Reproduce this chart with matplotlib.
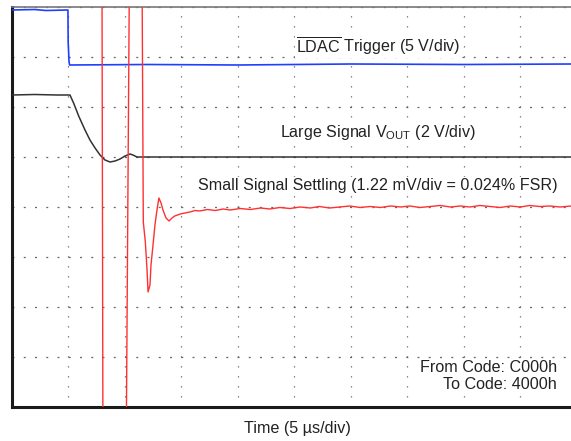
import numpy as np
import matplotlib
matplotlib.use('Agg')
import matplotlib.pyplot as plt

plt.rcParams['font.family'] = ['Liberation Sans', 'DejaVu Sans']
plt.rcParams['mathtext.fontset'] = 'custom'
plt.rcParams['mathtext.rm'] = 'Liberation Sans'
plt.rcParams['mathtext.it'] = 'Liberation Sans:italic'
plt.rcParams['mathtext.bf'] = 'Liberation Sans:bold'

# time in us (5 us/div), amplitude in screen divisions (0..8)
blue_t = [0.0, 2.0, 3.0, 4.95, 4.97, 5.05, 5.1, 12.0, 20.0, 30.0, 40.0, 49.5]
blue_y = [7.94, 7.95, 7.93, 7.94, 7.3, 6.9, 6.84, 6.85, 6.84, 6.86, 6.85, 6.86]

black_t = [0.0, 2.0, 4.0, 5.13, 5.45, 5.9, 6.46, 6.9, 7.35, 7.79, 8.23, 8.67,
           9.12, 9.56, 10.0, 10.44, 10.7, 11.06, 20.0, 35.0, 49.5]
black_y = [6.24, 6.25, 6.24, 6.24, 6.08, 5.82, 5.54, 5.34, 5.18, 5.04, 4.94, 4.9,
           4.92, 4.96, 5.02, 5.06, 5.04, 5.0, 5.0, 5.0, 5.0]

red_t = [0.0, 7.96, 8.05, 10.1, 10.4, 11.5, 11.62, 11.8, 11.95, 12.04, 12.21, 12.3,
         12.48, 12.65, 12.83, 13.0, 13.19, 13.36, 13.63, 13.9, 14.16, 14.4, 14.9,
         15.3, 15.75, 16.2, 16.6, 17.3, 18.0, 18.7, 19.3, 20.2, 21.1, 22.0, 22.8,
         23.7, 24.6, 25.5, 26.4, 27.2, 28.1, 29.0, 29.9, 30.8, 31.7, 32.6, 33.5,
         34.4, 35.2, 36.1, 37.0, 37.9, 38.8, 39.7, 40.5, 41.4, 42.3, 43.2, 44.1,
         45.0, 45.8, 46.7, 47.6, 48.5, 49.5]
red_y = [9.0, 9.0, -1.0, -1.0, 9.0, 9.0, 3.7, 3.3, 2.74, 2.3, 2.44, 2.84,
         3.24, 3.64, 3.94, 4.18, 4.08, 3.94, 3.78, 3.72, 3.78, 3.82, 3.86,
         3.88, 3.9, 3.93, 3.92, 3.95, 3.93, 3.96, 3.94, 3.97, 3.95, 3.98, 3.96,
         3.99, 3.97, 4.0, 3.98, 4.01, 3.98, 4.0, 4.02, 3.99, 4.01, 3.99, 4.02,
         4.0, 4.02, 3.99, 4.01, 4.03, 4.0, 4.02, 4.0, 4.03, 4.01, 3.99, 4.02,
         4.0, 4.03, 4.01, 4.02, 4.0, 4.02]

W, H = 571, 441
fig = plt.figure(figsize=(W / 100, H / 100), dpi=100)
ax = fig.add_axes([12 / W, 34 / H, (W - 12) / W, 400 / H])
ax.set_xlim(0, (W - 12) / 56.5 * 5)
ax.set_ylim(0, 8)

# graticule: dotted lines with a dot per subdivision
ax.set_xticks(np.arange(0, 50, 5))
ax.set_yticks(np.arange(0, 9, 1))
ax.tick_params(length=0, labelbottom=False, labelleft=False)
ax.xaxis.grid(True, color='#666666', lw=0.9, linestyle=(0, (1.0, 7.0)))
ax.yaxis.grid(True, color='#666666', lw=0.9, linestyle=(0, (1.6, 7.4)))
ax.set_axisbelow(True)

ax.spines['left'].set_linewidth(2.2)
ax.spines['bottom'].set_linewidth(2.2)
ax.spines['left'].set_color('#1a1a1a')
ax.spines['bottom'].set_color('#1a1a1a')
ax.spines['top'].set_color('#777777')
ax.spines['top'].set_linewidth(1.2)
ax.spines['right'].set_visible(False)

ax.plot(black_t, black_y, color='#333333', lw=1.1, zorder=3)
ax.plot(blue_t, blue_y, color='#1f3fff', lw=1.2, zorder=3)
ax.plot(red_t, red_y, color='#ff3030', lw=1.0, zorder=3)

fs = 11.6
def px_text(x, y, s, ha='left'):
    fig.text(x / W, 1 - y / H, s, ha=ha, va='baseline', fontsize=fs, color='#222222',
             bbox=dict(facecolor='white', edgecolor='none', pad=0.5), zorder=2)

px_text(296, 52, r'$\overline{\mathrm{LDAC}}$ Trigger (5 V/div)')
px_text(280, 137, r'Large Signal V$_{\mathrm{OUT}}$ (2 V/div)')
px_text(558, 190, 'Small Signal Settling (1.22 mV/div = 0.024% FSR)', ha='right')
px_text(557, 372, 'From Code: C000h', ha='right')
px_text(557, 389, 'To Code: 4000h', ha='right')
px_text(297, 433, 'Time (5 µs/div)', ha='center')

fig.savefig('out.png', dpi=100, facecolor='white')
